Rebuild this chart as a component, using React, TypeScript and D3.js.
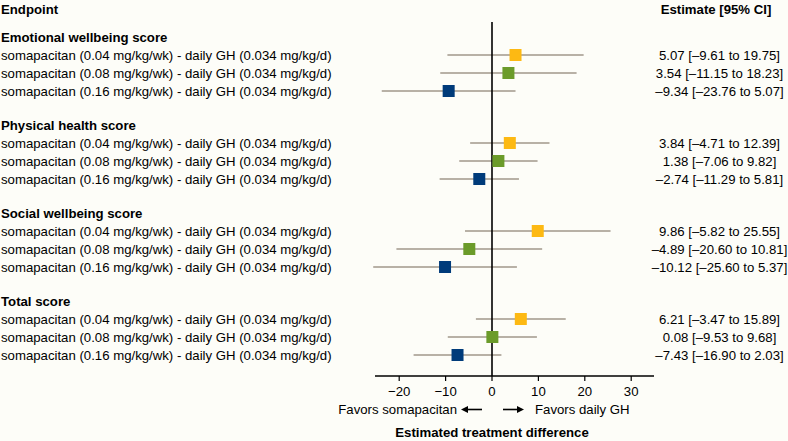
import React from "react";
import * as d3 from "d3";

const groups = ["Emotional wellbeing score", "Physical health score", "Social wellbeing score", "Total score"];
const comparisons = [
  "somapacitan (0.04 mg/kg/wk) - daily GH (0.034 mg/kg/d)",
  "somapacitan (0.08 mg/kg/wk) - daily GH (0.034 mg/kg/d)",
  "somapacitan (0.16 mg/kg/wk) - daily GH (0.034 mg/kg/d)",
];
const estimates = [
  [5.07, 3.54, -9.34],
  [3.84, 1.38, -2.74],
  [9.86, -4.89, -10.12],
  [6.21, 0.08, -7.43],
];
const lowers = [
  [-9.61, -11.15, -23.76],
  [-4.71, -7.06, -11.29],
  [-5.82, -20.6, -25.6],
  [-3.47, -9.53, -16.9],
];
const uppers = [
  [19.75, 18.23, 5.07],
  [12.39, 9.82, 5.81],
  [25.55, 10.81, 5.37],
  [15.89, 9.68, 2.03],
];
const ticks = [-20, -10, 0, 10, 20, 30];
const colors = ["#fdb913", "#6b9b2a", "#003b7a"];

const fmt = (v: number) => (v < 0 ? "\u2013" + Math.abs(v).toFixed(2) : v.toFixed(2));

export default function App() {
  const W = 788, H = 441;
  const x = d3.scaleLinear().domain([-20, 30]).range([399.2, 631.2]);
  const groupTop = (g: number) => 37 + g * 88;
  const rowY = (g: number, i: number) => groupTop(g) + 18 * (i + 1);
  const axisY = 376;
  const font = "Liberation Sans, Arial, Helvetica, sans-serif";
  const fs = 13.2;
  return (
    <svg width={W} height={H} style={{ position: "absolute", left: 0, top: 0, background: "#fdfdf8" }} fontFamily={font}>
      <rect width={W} height={H} fill="#fdfdf8" />
      <text x={1} y={14} fontSize={fs} fontWeight="bold">Endpoint</text>
      <text x={716} y={14} fontSize={fs} fontWeight="bold" textAnchor="middle">Estimate [95% CI]</text>
      {groups.map((g, gi) => (
        <g key={g}>
          <text x={1} y={groupTop(gi) + 4.5} fontSize={fs} fontWeight="bold">{g}</text>
          {comparisons.map((c, i) => {
            const y = rowY(gi, i);
            return (
              <g key={c}>
                <text x={1} y={y + 4.5} fontSize={fs}>{c}</text>
                <line x1={x(lowers[gi][i])} x2={x(uppers[gi][i])} y1={y} y2={y} stroke="#b8b1a6" strokeWidth={2} />
                <text x={719.5} y={y + 4.5} fontSize={fs} textAnchor="middle">
                  {`${fmt(estimates[gi][i])} [${fmt(lowers[gi][i])} to ${fmt(uppers[gi][i])}]`}
                </text>
              </g>
            );
          })}
        </g>
      ))}
      <line x1={x(0)} x2={x(0)} y1={22} y2={axisY} stroke="#000" strokeWidth={1.6} />
      {groups.map((g, gi) =>
        comparisons.map((c, i) => {
          const y = rowY(gi, i);
          const s = 12;
          return (
            <rect key={g + i} x={x(estimates[gi][i]) - s / 2} y={y - s / 2} width={s} height={s} fill={colors[i]} />
          );
        })
      )}
      <line x1={375} x2={654} y1={axisY} y2={axisY} stroke="#000" strokeWidth={1.5} />
      {ticks.map((t) => (
        <g key={t}>
          <line x1={x(t)} x2={x(t)} y1={axisY} y2={axisY + 5} stroke="#000" strokeWidth={1.2} />
          <text x={x(t)} y={axisY + 20} fontSize={fs} textAnchor="middle">{t < 0 ? "\u2212" + Math.abs(t) : t}</text>
        </g>
      ))}
      <text x={457} y={414} fontSize={fs} textAnchor="end">Favors somapacitan</text>
      <line x1={466} x2={482} y1={409.5} y2={409.5} stroke="#000" strokeWidth={1.6} />
      <path d="M461,409.5 L468,406 L468,413 Z" fill="#000" />
      <line x1={503} x2={519} y1={409.5} y2={409.5} stroke="#000" strokeWidth={1.6} />
      <path d="M524,409.5 L517,406 L517,413 Z" fill="#000" />
      <text x={535} y={414} fontSize={fs}>Favors daily GH</text>
      <text x={x(0)} y={437} fontSize={fs} fontWeight="bold" textAnchor="middle">Estimated treatment difference</text>
    </svg>
  );
}
